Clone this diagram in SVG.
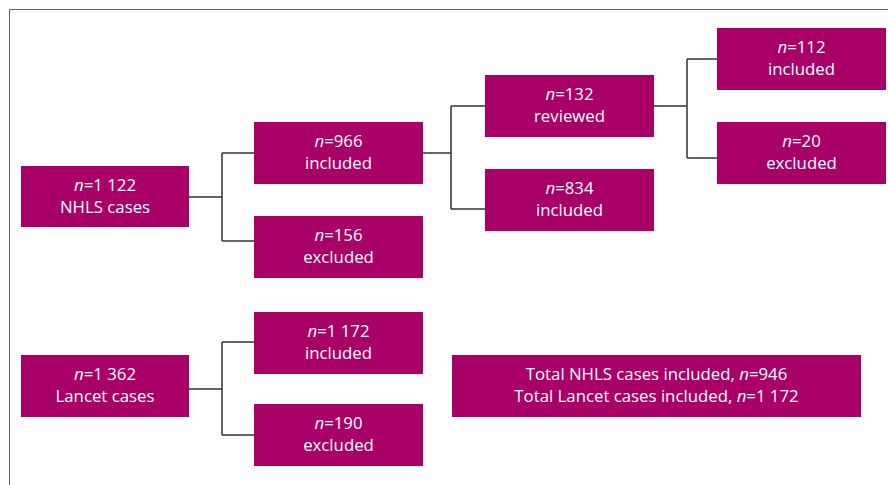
<svg xmlns="http://www.w3.org/2000/svg" width="888" height="485" viewBox="0 0 888 485">
<style>
.box{fill:#a80067}
.t{fill:#fff;font-family:"Open Sans","Noto Sans",sans-serif;font-size:16.8px;text-anchor:middle}
.i{font-style:italic}
.c{fill:none;stroke:#333;stroke-width:1.5}
</style>
<rect width="888" height="485" fill="#fff"/>
<path d="M9.5,495 V9.5 H900" fill="none" stroke="#666" stroke-width="1"/>
<g id="connectors">
<path class="c" d="M189,197 H222 M222,153 V241 M222,153 H254 M222,241 H254"/>
<path class="c" d="M423,153 H451 M451,106 V209 M451,106 H485 M451,209 H485"/>
<path class="c" d="M654,106 H687 M687,59 V158 M687,59 H717 M687,158 H717"/>
<path class="c" d="M189,389 H222 M222,342 V435 M222,342 H254 M222,435 H254"/>
</g>
<g id="nhls"><rect class="box" x="21" y="166" width="168" height="61"/>
<text class="t" x="105" y="191"><tspan class="i">n</tspan>=1 122</text>
<text class="t" x="105" y="213">NHLS cases</text></g>
<g id="inc966"><rect class="box" x="254" y="122" width="169" height="62"/>
<text class="t" x="338.5" y="147"><tspan class="i">n</tspan>=966</text>
<text class="t" x="338.5" y="169">included</text></g>
<g id="exc156"><rect class="box" x="254" y="216" width="169" height="62"/>
<text class="t" x="338.5" y="241"><tspan class="i">n</tspan>=156</text>
<text class="t" x="338.5" y="263">excluded</text></g>
<g id="rev132"><rect class="box" x="485" y="75" width="169" height="62"/>
<text class="t" x="569.5" y="100"><tspan class="i">n</tspan>=132</text>
<text class="t" x="569.5" y="122">reviewed</text></g>
<g id="inc834"><rect class="box" x="485" y="169" width="169" height="62"/>
<text class="t" x="569.5" y="194"><tspan class="i">n</tspan>=834</text>
<text class="t" x="569.5" y="216">included</text></g>
<g id="inc112"><rect class="box" x="717" y="28" width="169" height="62"/>
<text class="t" x="801.5" y="53"><tspan class="i">n</tspan>=112</text>
<text class="t" x="801.5" y="75">included</text></g>
<g id="exc20"><rect class="box" x="717" y="122" width="169" height="62"/>
<text class="t" x="801.5" y="147"><tspan class="i">n</tspan>=20</text>
<text class="t" x="801.5" y="169">excluded</text></g>
<g id="lancet"><rect class="box" x="21" y="355" width="168" height="62"/>
<text class="t" x="105" y="380"><tspan class="i">n</tspan>=1 362</text>
<text class="t" x="105" y="402">Lancet cases</text></g>
<g id="inc1172"><rect class="box" x="254" y="312" width="169" height="62"/>
<text class="t" x="338.5" y="337"><tspan class="i">n</tspan>=1 172</text>
<text class="t" x="338.5" y="359">included</text></g>
<g id="exc190"><rect class="box" x="254" y="404" width="169" height="62"/>
<text class="t" x="338.5" y="429"><tspan class="i">n</tspan>=190</text>
<text class="t" x="338.5" y="451">excluded</text></g>
<g id="total"><rect class="box" x="452" y="355" width="409" height="62"/>
<text class="t" x="656.5" y="380">Total NHLS cases included, <tspan class="i">n</tspan>=946</text>
<text class="t" x="656.5" y="402">Total Lancet cases included, <tspan class="i">n</tspan>=1 172</text></g>
</svg>
